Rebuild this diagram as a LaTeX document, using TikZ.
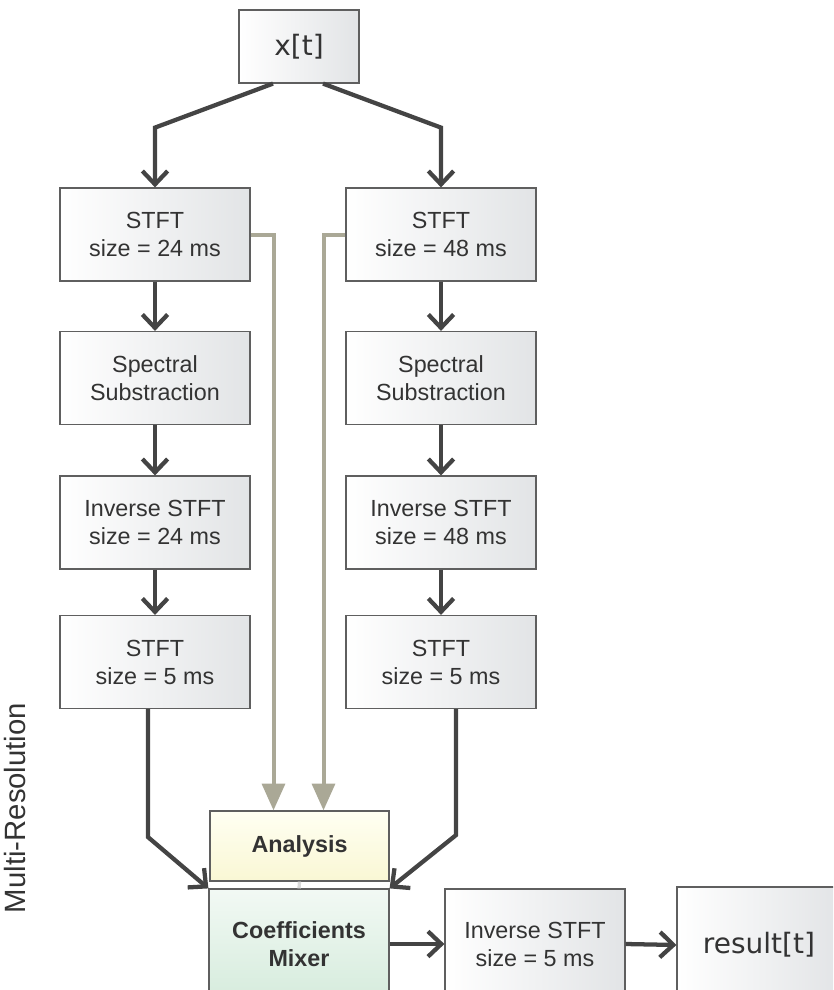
\documentclass[tikz,border=0pt]{standalone}
\usepackage{fontspec}
\setmainfont{Liberation Sans}
\newfontfamily\sigfont{DejaVu Sans}
\usetikzlibrary{arrows.meta,calc}
\definecolor{txtgray}{RGB}{51,51,51}
\definecolor{linedark}{RGB}{68,68,68}
\definecolor{lineolive}{RGB}{170,168,150}
\definecolor{boxedge}{RGB}{95,95,95}
\definecolor{boxshade}{RGB}{226,228,230}
\definecolor{anatop}{RGB}{255,255,242}
\definecolor{anabot}{RGB}{249,247,212}
\definecolor{mixtop}{RGB}{242,249,244}
\definecolor{mixbot}{RGB}{214,236,221}
\begin{document}
\begin{tikzpicture}[x=0.75pt, y=-0.75pt, font=\fontsize{17.5}{21}\selectfont, text=txtgray,
  block/.style={draw=boxedge, line width=0.9pt, left color=white, right color=boxshade,
    align=center, minimum width=142.5pt, minimum height=69.75pt, inner sep=0pt},
  iobox/.style={block, font=\sigfont\fontsize{21}{25}\selectfont},
  darrow/.style={draw=linedark, line width=3.2pt, -{Straight Barb[length=10pt,width=19pt]}},
  garrow/.style={draw=lineolive, line width=3pt, -{Triangle[length=20pt,width=17pt]}},
  lgline/.style={draw=black!15, line width=2.5pt}]
  \useasboundingbox (0,0) rectangle (833,990);
  \clip (0,0) rectangle (833,990);

  % input signal
  \node[iobox, minimum width=90pt, minimum height=54.75pt] (xin) at (299,46.5) {x[t]};

  % left branch: 24 ms
  \node[block] (lstft)  at (155,234.5) {STFT\\size = 24 ms};
  \node[block] (lspec)  at (155,378)   {Spectral\\Substraction};
  \node[block] (listft) at (155,522.5) {Inverse STFT\\size = 24 ms};
  \node[block] (lstftf) at (155,662)   {STFT\\size = 5 ms};

  % right branch: 48 ms
  \node[block] (rstft)  at (441,234.5) {STFT\\size = 48 ms};
  \node[block] (rspec)  at (441,378)   {Spectral\\Substraction};
  \node[block] (ristft) at (441,522.5) {Inverse STFT\\size = 48 ms};
  \node[block] (rstftf) at (441,662)   {STFT\\size = 5 ms};

  % mixing stage
  \node[block, top color=anatop, bottom color=anabot, minimum width=134.25pt,
    minimum height=52.5pt, font=\fontsize{17.5}{21}\selectfont\bfseries] (ana) at (299.5,846) {Analysis};
  \node[block, top color=mixtop, bottom color=mixbot, minimum width=135pt,
    minimum height=82.5pt, font=\fontsize{17.5}{21}\selectfont\bfseries] (mix) at (299,944) {Coefficients\\Mixer};
  \node[block, minimum width=135pt, minimum height=82.5pt] (iout) at (535,944) {Inverse STFT\\size = 5 ms};
  \node[iobox, minimum width=123pt, minimum height=87pt] (res) at (759,945) {result[t]};

  \node[rotate=90, font=\fontsize{22}{26}\selectfont] (mres) at (15,808) {Multi-Resolution};

  % connectors
  \draw[darrow] ($(xin.south)+(-26,0)$) -- ++(-118,44) -- (lstft.north);
  \draw[darrow] ($(xin.south)+(24,0)$) -- ++(118,44) -- (rstft.north);
  \foreach \a/\b in {lstft/lspec, lspec/listft, listft/lstftf, rstft/rspec, rspec/ristft, ristft/rstftf}
    \draw[darrow] (\a.south) -- (\b.north);
  \draw[garrow] (lstft.east) -| ($(ana.north)+(-26,0)$);
  \draw[garrow] (rstft.west) -| ($(ana.north)+(24,0)$);
  \draw[darrow] ($(lstftf.south)+(-7,0)$) -- ++(0,128) -- (mix.north west);
  \draw[darrow] ($(rstftf.south)+(15,0)$) -- ++(0,126) -- (mix.north east);
  \draw[lgline] (ana.south) -- (mix.north);
  \draw[darrow] (mix.east) -- (iout.west);
  \draw[darrow] (iout.east) -- (res.west);
\end{tikzpicture}
\end{document}
